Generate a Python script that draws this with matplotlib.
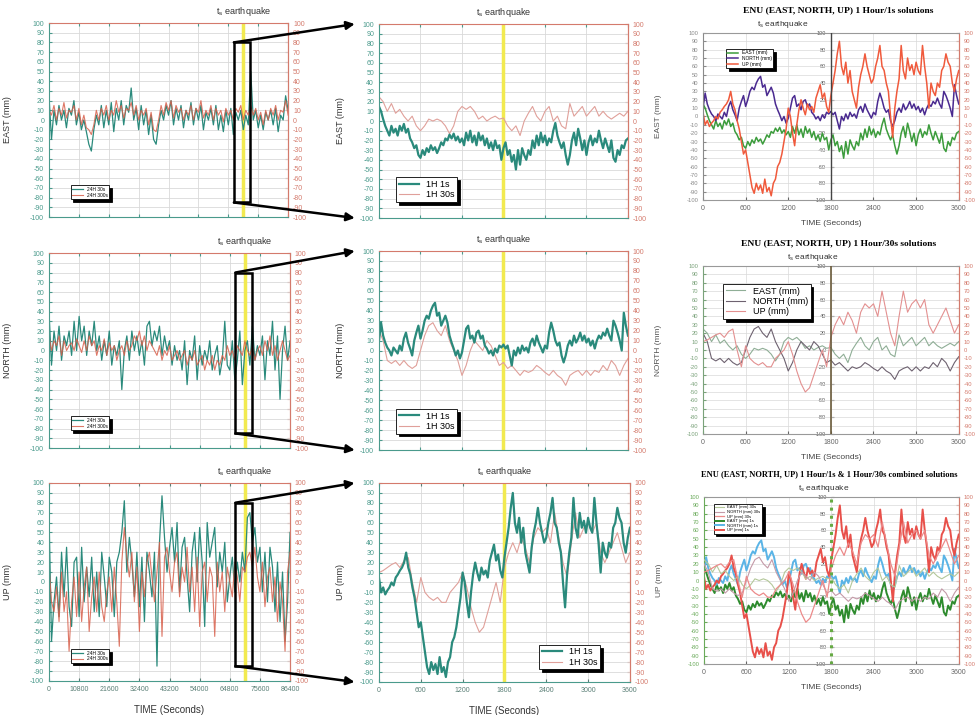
import numpy as np
import matplotlib.pyplot as plt
from matplotlib.patches import Rectangle, ConnectionPatch

plt.rcParams['font.family'] = ['Liberation Sans', 'DejaVu Sans']
plt.rcParams['mathtext.default'] = 'regular'
plt.rcParams['axes.unicode_minus'] = False

# ---------------- data (mm) ----------------
# 24 hour solutions, one value every 900 s (0 .. 86400 s)
east_24h_30s = [25, -20, 10, -5, 15, 0, 10, -8, 12, 5, 20, -5, 8, -10, 0, -12, -25, -32, -10, 5,
                -5, 15, -8, 10, -5, 18, -12, 12, 0, 20, -5, 15, 8, 33, 0, 12, -10, 15, -5, 10,
                -15, 5, -20, -25, -5, 10, 0, 15, 5, 20, -5, 12, 0, 15, -8, 10, 0, 18, -5, 12,
                0, 15, -10, 8, 0, 12, -5, 15, -10, 5, -12, 10, -5, 12, -15, 8, 0, 10, -10, 5,
                -5, 50, 0, 10, -8, 5, -10, 8, 0, 10, -5, 12, -12, 5, 0, 25, 10]
east_24h_300s = [10, 5, 15, 0, 12, 5, 18, 2, 10, 8, 15, 0, 12, -5, 5, -8, -10, -15, -5, 10,
                 0, 12, 5, 15, 0, 10, 5, 20, 8, 15, 2, 12, 10, 18, 5, 15, 0, 10, 5, 12,
                 -5, 8, -10, -12, 0, 15, 5, 18, 10, 20, 2, 15, 8, 12, 0, 10, 5, 15, 0, 12,
                 8, 20, 2, 10, 5, 15, 0, 12, 5, 10, -2, 12, 5, 10, 0, 12, 8, 15, 0, 10,
                 5, 15, 5, 12, 0, 8, -5, 10, 0, 12, 5, 15, 0, 10, 8, 20, 5]
north_24h_30s = [40, -15, 20, 0, 25, -10, 15, 5, 20, -5, 30, 0, 35, 10, 25, -5, 20, 5, 30, 0,
                 15, -10, 10, -5, 20, -15, 5, -5, 10, -40, 0, 15, -10, 20, 0, 15, -5, 10, -15, 25,
                 30, 5, 20, 10, 25, -5, 15, 0, 10, -15, 5, -10, 0, -20, 10, -35, 0, -10, 15, -30,
                 5, -15, 0, -10, 10, -20, -5, 5, -25, -10, 30, -15, -20, 10, -30, -10, 20, -35, 0, 10,
                 -15, 25, -10, 5, -5, 15, -30, 10, -5, 30, -20, 15, -50, 0, 25, -10, 10]
north_24h_300s = [15, 0, 10, 5, 15, -5, 10, 0, 5, 8, 0, 12, 5, -2, 10, 0, 15, 5, 10, -5,
                  5, 0, 12, -5, 8, 0, 5, -10, 0, 5, -5, 10, 0, 5, 15, 10, 20, 5, 15, 0,
                  10, 5, 0, -5, 5, -10, 0, -5, 5, -10, -5, 0, -10, -5, 0, -15, -5, -10, 0, -15,
                  -10, -5, -20, -10, -15, -5, -20, -10, -15, -5, -10, 5, -5, 0, -10, 5, 0, -5, 10, 0,
                  -5, 5, -10, 0, 5, -5, 10, 0, 15, -5, 5, -10, 0, 10, 0, -10, -5]
up_24h_30s = [70, -60, -20, 5, -35, 30, -15, 35, -25, -45, 20, 25, -35, 35, -20, 15, -15, 25, -30, 10,
              -35, 30, 5, -25, 25, 10, -35, 20, 30, 50, 82, 10, 45, 20, -15, 30, -25, 25, -40, 30,
              10, -15, 30, -85, 40, 87, 45, 10, 35, 55, 20, 60, -10, 35, 45, 5, -30, 30, 50, 0,
              55, 20, -45, 60, 25, 40, 55, -5, 30, 10, 40, -20, 5, 25, -10, 20, 0, 30, 10, 65,
              70, 40, 55, 20, 35, -10, 30, -20, 35, 15, -30, 20, -40, 10, -60, -20, 50]
up_24h_300s = [15, -20, -30, -5, -40, 10, -30, -10, -70, -20, 5, -35, 10, -40, -5, 15, -50, -15, 5, -30,
               10, -25, -40, -10, 5, -30, 15, -20, -65, 20, 55, 25, 5, 30, -20, 15, -50, 10, -15, 20,
               30, 5, -20, 10, 40, -55, 25, 35, 10, -10, 20, 30, -15, 15, 0, 35, -10, 15, -30, 25,
               -45, 10, 20, -20, 15, 5, -55, 20, -10, 10, -30, 15, 0, -15, 20, 5, -20, 15, 10, 25,
               30, 15, 35, 5, -10, 20, -25, 5, 15, -20, 5, -40, 0, -20, -70, 10, 30]

# 1 hour around the event: 1 s solution sampled every 30 s, 30 s solution every 60 s
east_1h_1s = [15, 10, 2, -5, -10, -15, -5, -12, -8, -15, -5, -10, -3, -12, -8, -18, -22, -28, -25, -35,
              -38, -30, -35, -28, -32, -25, -30, -27, -33, -28, -22, -25, -18, -20, -14, -18, -13, -20, -16, -22,
              -18, -25, -12, -20, -10, -22, -15, -25, -12, -20, -15, -25, -18, -28, -22, -30, -20, -28, -25, -40,
              -28, -22, -35, -30, -42, -35, -50, -30, -45, -28, -35, -40, -30, -35, -20, -28, -15, -25, -12, -22,
              -15, -25, -18, -22, -10, -2, -15, -22, -28, -22, -35, -45, -35, -20, -12, -25, -8, -18, -30, -20,
              -35, -22, -15, -25, -18, -22, -10, -20, -28, -18, -25, -32, -20, -38, -42, -30, -35, -25, -28, -20, -18]
east_1h_30s = [25, 20, 10, 18, 8, 12, 5, 0, 5, -5, -10, -5, 2, 0, 2, 0, -5, -13, -5, 10,
               15, 12, 15, 10, 2, 5, 0, 3, 5, 2, 3, -5, -10, -5, -15, 0, 8, 15, 5, 0,
               10, 15, 0, 5, -5, -8, 18, 5, 10, 15, 5, 10, 15, 5, 10, 5, 2, 5, 8, 5, 10]
north_1h_1s = [10, 28, 15, 8, 3, 0, -5, 3, 0, -3, 5, 0, 12, 18, 8, 2, -5, 10, 18, 25,
               12, 20, 30, 35, 32, 40, 45, 48, 35, 38, 25, 30, 35, 28, 15, 8, 2, -5, 0, -8,
               -2, 10, 22, 25, 12, 15, 8, 18, 20, 12, 15, 5, 2, -3, 0, -5, 2, -2, 5, 3,
               6, 2, 5, -5, -15, 0, -5, 3, -3, 5, 0, 3, -2, 8, 12, 5, 15, 8, 3, -2,
               5, 2, 18, 28, 20, 10, 5, 8, -5, -12, -5, 5, 10, 5, 15, 8, 12, 18, 10, 15,
               8, 12, 5, 10, 2, 10, 15, 12, 18, 15, 22, 15, 10, 30, 25, 18, 10, 0, 38, 25, 15]
north_1h_30s = [20, 10, -10, -13, -10, -15, -10, -15, -18, -15, 0, 15, 25, 28, 20, 15, 25, 10, 0, -10,
                -25, -15, 0, 10, 5, 0, 10, 5, -5, -15, -12, -18, -15, -20, -25, -20, -22, -20, -15, -18,
                -22, -25, -20, -25, -28, -35, -25, -22, -20, -25, -20, -25, -20, -22, -15, -20, -10, -15, -25, -15, -8]
up_1h_1s = [5, -10, -5, -12, -8, -5, 0, -3, 5, 8, 12, 15, 20, 30, 15, 8, -5, -15, -30, -45,
            -40, -55, -70, -85, -92, -80, -88, -82, -92, -75, -90, -85, -95, -80, -75, -60, -55, -45, -30, -15,
            10, 0, -20, -35, -10, 8, 20, 10, 2, 15, 8, 12, 5, 22, 30, 38, 22, 28, 12, 5,
            25, 40, 55, 75, 90, 60, 50, 65, 40, 55, 30, 20, 10, 35, 50, 60, 75, 60, 50, 40,
            45, 60, 70, 85, 60, 55, 40, 30, 0, -25, 10, 30, 45, 85, 55, 45, 70, 55, 62, 50,
            65, 55, 50, 85, 60, 40, 10, 40, 30, 25, 40, 35, 55, 60, 75, 65, 60, 40, 30, 45, 55]
up_1h_30s = [10, 12, 15, 18, 20, 15, 22, 25, 0, -20, 5, -10, -15, -18, -15, -20, -20, -10, -5, 0,
             10, -5, -25, -40, -50, -45, -30, -15, 0, -20, 15, 30, 40, 30, 45, 35, 20, 45, 55, 50,
             55, 40, 70, 45, 20, 5, 40, 70, 45, 55, 60, 50, 60, 30, 20, 30, 40, 50, 35, 20, 30]

day_ticks = [0, 10800, 21600, 32400, 43200, 54000, 64800, 75600, 86400]
hour_ticks = [0, 600, 1200, 1800, 2400, 3000, 3600]
quake_day = 70200
quake_hour = 1800
zoom_box = (66800, -85, 5800, 165)   # x, y, width, height of the 1 h window

components = ['EAST', 'NORTH', 'UP']
day_series = [(east_24h_30s, east_24h_300s), (north_24h_30s, north_24h_300s), (up_24h_30s, up_24h_300s)]
hour_series = [(east_1h_1s, east_1h_30s), (north_1h_1s, north_1h_30s), (up_1h_1s, up_1h_30s)]

TEAL = '#2a8a7c'
RED = '#d8604c'
PINK = '#e0a09a'
TEAL_TXT = '#4a9a8c'
RED_TXT = '#d47a6c'
YELLOW = '#f2ea50'
GRID = '#d9d9d9'


def tseries(vals, end):
    return np.linspace(0, end, len(vals))


def dual_panel(ax, end, ticks, quake, show_x):
    ax.set_xlim(0, end)
    ax.set_ylim(-100, 100)
    ax.set_xticks(ticks)
    ax.set_yticks(range(-100, 101, 10))
    ax.grid(color=GRID, lw=0.6)
    ax.axvline(quake, color=YELLOW, lw=2.5, zorder=1.8)
    ax.tick_params(labelsize=5, length=2, direction='in', top=True, colors=TEAL_TXT)
    if not show_x:
        ax.tick_params(labelbottom=False)
    for s in ['left', 'bottom']:
        ax.spines[s].set_color(TEAL_TXT)
    for s in ['top', 'right']:
        ax.spines[s].set_color(RED_TXT)
    sec = ax.secondary_yaxis('right')
    sec.set_yticks(range(-100, 101, 10))
    sec.tick_params(labelsize=5, length=2, direction='in', colors=RED_TXT)
    sec.spines['right'].set_color(RED_TXT)
    ax.annotate(r'$t_s$ earthquake', xy=(quake, 1.025), xycoords=('data', 'axes fraction'),
                ha='center', va='bottom', fontsize=6.5, color='#333333')


def add_legend(ax, fs, **kw):
    leg = ax.legend(fontsize=fs, frameon=True, fancybox=False, edgecolor='black',
                    shadow={'color': 'black', 'alpha': 1}, handlelength=2.2,
                    borderpad=0.3, labelspacing=0.15, **kw)
    leg.get_frame().set_linewidth(0.6)
    return leg


fig = plt.figure(figsize=(9.76, 7.15), dpi=100)

left_pos = [(0.0502, 0.6965, 0.245, 0.2713), (0.0502, 0.3734, 0.247, 0.2727), (0.0502, 0.0476, 0.247, 0.277)]
mid_pos = [(0.3883, 0.6951, 0.2551, 0.2713), (0.3883, 0.3706, 0.2551, 0.2783), (0.3883, 0.0462, 0.2571, 0.2783)]
right_pos = [(0.7203, 0.7203, 0.262, 0.2336), (0.7203, 0.393, 0.262, 0.235), (0.7213, 0.0713, 0.261, 0.2336)]

left_axes, mid_axes = [], []
for i, comp in enumerate(components):
    # 24 h panel
    ax = fig.add_axes(left_pos[i])
    a, b = day_series[i]
    ax.plot(tseries(a, 86400), a, color=TEAL, lw=0.9, label='24H 30s', zorder=2)
    ax.plot(tseries(b, 86400), b, color=RED, lw=0.8, alpha=0.85, label='24H 300s', zorder=2.1)
    dual_panel(ax, 86400, day_ticks, quake_day, i == 2)
    ax.set_ylabel(f'{comp} (mm)', fontsize=6.5, color='#333333')
    ax.yaxis.set_label_coords(-0.155, 0.5)
    add_legend(ax, 3.5, loc='lower left', bbox_to_anchor=(0.08, 0.08))
    ax.add_patch(Rectangle(zoom_box[:2], zoom_box[2], zoom_box[3], fill=False,
                           ec='black', lw=1.8, zorder=5, clip_on=False))
    left_axes.append(ax)

    # 1 h panel
    ax = fig.add_axes(mid_pos[i])
    a, b = hour_series[i]
    ax.plot(tseries(a, 3600), a, color=TEAL, lw=1.6, label='1H 1s', zorder=2.1)
    ax.plot(tseries(b, 3600), b, color=PINK, lw=0.8, label='1H 30s', zorder=2)
    dual_panel(ax, 3600, hour_ticks, quake_hour, i == 2)
    ax.set_ylabel(f'{comp} (mm)', fontsize=6.5, color='#333333')
    ax.yaxis.set_label_coords(-0.137, 0.5)
    if i == 2:
        add_legend(ax, 6.5, loc='lower right', bbox_to_anchor=(0.9, 0.04))
    else:
        add_legend(ax, 6.5, loc='lower left', bbox_to_anchor=(0.05, 0.06))
    mid_axes.append(ax)

for ax in (left_axes[2], mid_axes[2]):
    ax.set_xlabel('TIME (Seconds)', fontsize=7, color='#333333')
    ax.xaxis.set_label_coords(0.5, -0.12)
    ax.tick_params(axis='x', colors='#5a7f76')

# zoom connectors from the 24 h box to the 1 h panels
bx, by, bw, bh = zoom_box
for i in range(3):
    for yA, yB in ((by + bh, 100), (by, -100)):
        con = ConnectionPatch(xyA=(bx, yA), coordsA=left_axes[i].transData,
                              xyB=(-350, yB), coordsB=mid_axes[i].transData,
                              arrowstyle='-|>', mutation_scale=12, lw=1.8, color='black')
        fig.add_artist(con)

# ENU panels on the right
t1 = tseries(east_1h_1s, 3600)
t30 = tseries(east_1h_30s, 3600)
right_titles = ['ENU (EAST, NORTH, UP) 1 Hour/1s solutions',
                'ENU (EAST, NORTH, UP) 1 Hour/30s solutions',
                'ENU (EAST, NORTH, UP) 1 Hour/1s & 1 Hour/30s combined solutions']
title_fs = [6.8, 6.8, 6.0]
title_x = [0.53, 0.53, 0.49]
sub_x = [0.31, 0.43, 0.47]
left_tick_col = ['#8a8a8a', '#7aa27a', '#6aaa5a']
quake_style = [('#444444', '-', 1.0), ('#6a5a3a', '-', 1.2), ('#66aa44', ':', 2.2)]

for i in range(3):
    ax = fig.add_axes(right_pos[i])
    if i == 0:
        ax.plot(t1, east_1h_1s, color='#3c9c3c', lw=1.1, label='EAST (mm)')
        ax.plot(t1, north_1h_1s, color='#4a2a90', lw=1.1, label='NORTH (mm)')
        ax.plot(t1, up_1h_1s, color='#f05a3c', lw=1.1, label='UP (mm)')
        leg_fs, anchor = 3.5, (0.08, 0.92)
    elif i == 1:
        ax.plot(t30, east_1h_30s, color='#8fae96', lw=0.8, label='EAST (mm)')
        ax.plot(t30, north_1h_30s, color='#6e6270', lw=0.8, label='NORTH (mm)')
        ax.plot(t30, up_1h_30s, color='#e39090', lw=0.8, label='UP (mm)')
        leg_fs, anchor = 6.5, (0.06, 0.92)
    else:
        ax.plot(t30, east_1h_30s, color='#b4c89a', lw=0.8, label='EAST (mm) 30s', zorder=3)
        ax.plot(t30, north_1h_30s, color='#c49aa8', lw=0.8, label='NORTH (mm) 30s', zorder=3)
        ax.plot(t30, up_1h_30s, color='#ec8a8a', lw=0.9, label='UP (mm) 30s', zorder=3)
        ax.plot(t1, east_1h_1s, color='#2e8b2e', lw=1.4, label='EAST (mm) 1s', zorder=2)
        ax.plot(t1, north_1h_1s, color='#5ab4e6', lw=1.4, label='NORTH (mm) 1s', zorder=2)
        ax.plot(t1, up_1h_1s, color='#e8504a', lw=1.4, label='UP (mm) 1s', zorder=2)
        leg_fs, anchor = 3.0, (0.03, 0.97)
    ax.set_xlim(0, 3600)
    ax.set_ylim(-100, 100)
    ax.set_xticks(hour_ticks)
    ax.set_yticks(range(-100, 101, 10))
    ax.grid(color=GRID, lw=0.5)
    ax.tick_params(labelsize=4.2, length=2, direction='in', colors=left_tick_col[i])
    ax.tick_params(axis='x', colors='#666666', labelsize=5)
    ax.spines['left'].set_color(left_tick_col[i])
    ax.spines['right'].set_color(RED_TXT)
    for s in ['top', 'bottom']:
        ax.spines[s].set_color('#999999')
    sec = ax.secondary_yaxis('right')
    sec.set_yticks(range(-100, 101, 10))
    sec.tick_params(labelsize=4.2, length=2, direction='in', colors=RED_TXT)
    sec.spines['right'].set_color(RED_TXT)
    # inner axis at the event time
    col, ls, lw = quake_style[i]
    ax.axvline(quake_hour, color=col, ls=ls, lw=lw, zorder=4)
    inner = ax.secondary_yaxis(0.5)
    inner.set_alignment('left')
    inner.set_yticks(range(-100, 101, 20))
    inner.tick_params(labelsize=4, length=2, direction='in', colors='#555555')
    for s in inner.spines.values():
        s.set_visible(False)
    ax.set_xlabel('TIME (Seconds)', fontsize=6, color='#444444')
    ax.xaxis.set_label_coords(0.5, -0.12)
    ax.set_ylabel(f'{components[i]} (mm)', fontsize=6, color='#555555')
    ax.yaxis.set_label_coords(-0.16, 0.5)
    ax.text(title_x[i], 1.11, right_titles[i], transform=ax.transAxes, ha='center', va='bottom',
            fontsize=title_fs[i], fontweight='bold', family='Liberation Serif')
    ax.text(sub_x[i], 1.02, r'$t_s$ earthquake', transform=ax.transAxes, ha='center', va='bottom',
            fontsize=6, color='#333333')
    add_legend(ax, leg_fs, loc='upper left', bbox_to_anchor=anchor)

fig.savefig('out.png', dpi=100)
